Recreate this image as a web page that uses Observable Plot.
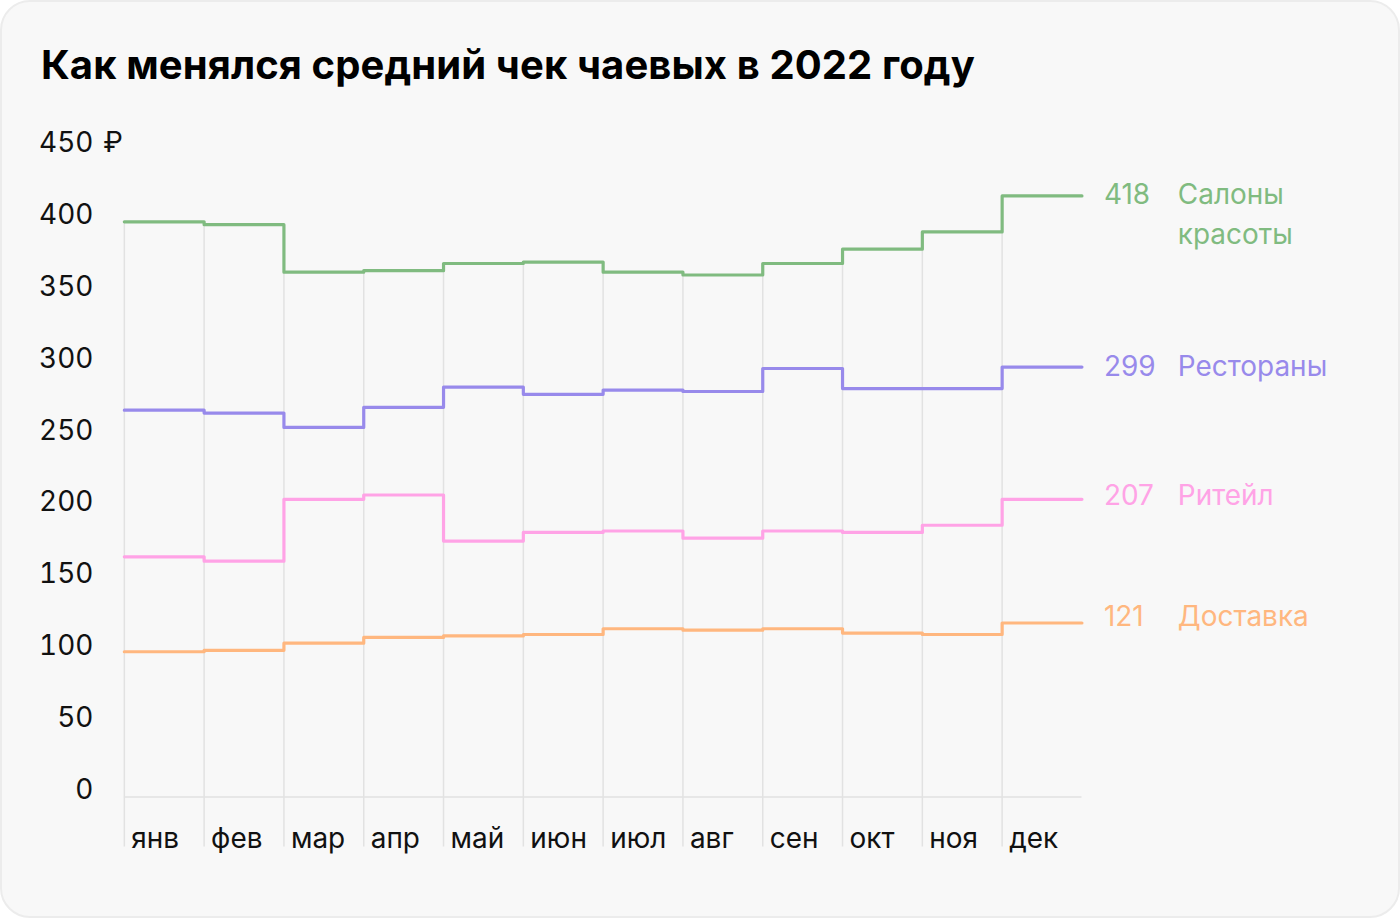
<!DOCTYPE html>
<html>
<head>
<meta charset="utf-8">
<script src="https://cdn.jsdelivr.net/npm/d3@7"></script>
<script src="https://cdn.jsdelivr.net/npm/@observablehq/plot@0.6"></script>
<style>
  html, body { margin: 0; padding: 0; background: #ffffff; }
  #card {
    position: absolute; left: 0; top: 0; width: 1396px; height: 914px;
    background: #f8f8f8; border: 2px solid #ececec; border-radius: 30px; overflow: hidden;
    font-family: Inter, "Noto Sans", sans-serif;
  }
  #title {
    position: absolute; left: 39px; top: 43px; margin: 0;
    font-size: 40px; line-height: 40px; font-weight: 700; color: #000; letter-spacing: 0.1px;
  }
  #chart { position: absolute; left: -2px; top: 96px; }
</style>
</head>
<body>
<div id="card">
  <h1 id="title">Как менялся средний чек чаевых в 2022 году</h1>
  <div id="chart"></div>
</div>
<script>
const months = ["янв","фев","мар","апр","май","июн","июл","авг","сен","окт","ноя","дек"];
const yTicks = [0, 50, 100, 150, 200, 250, 300, 350, 400, 450];
const seriesNames = ["Салоны\nкрасоты", "Рестораны", "Ритейл", "Доставка"];
const seriesColors = ["#80bb80", "#988aeb", "#ffa3e6", "#ffb77f"];
const beauty      = [400, 398, 365, 366, 371, 372, 365, 363, 371, 381, 393, 418];
const restaurants = [269, 267, 257, 271, 285, 280, 283, 282, 298, 284, 284, 299];
const retail      = [167, 164, 207, 210, 178, 184, 185, 180, 185, 184, 189, 207];
const delivery    = [101, 102, 107, 111, 112, 113, 117, 116, 117, 114, 113, 121];

const allSeries = [beauty, restaurants, retail, delivery];
// step table: each month spans [i, i+1]; add closing point at 12
const rows = [];
allSeries.forEach((vals, s) => {
  vals.forEach((v, i) => rows.push({s, x: i, y: v}));
  rows.push({s, x: vals.length, y: vals[vals.length - 1]});
});
const ends = allSeries.map((vals, s) => ({s, x: vals.length, y: vals[vals.length - 1], name: seriesNames[s]}));
const grid = months.map((m, i) => ({x: i, y: beauty[i]}));
const labelNudge = [-1, 0, -3, -6];

const endLabels = ends.flatMap((e, s) => [
  Plot.text([e], {x: "x", y: "y", text: d => String(d.y), fill: seriesColors[s], fontSize: 28, textAnchor: "start", lineAnchor: "top", dx: 22, dy: -11 + labelNudge[s]}),
  Plot.text([e], {x: "x", y: "y", text: "name", fill: seriesColors[s], fontSize: 28, textAnchor: "start", lineAnchor: "top", lineHeight: 1.45, dx: 96, dy: -20 + labelNudge[s]})
]);

const chart = Plot.plot({
  width: 1400,
  height: 780,
  marginLeft: 124,
  marginRight: 317,
  marginTop: 51.5,
  marginBottom: 80.5,
  style: {background: "transparent", fontFamily: "Inter, 'Noto Sans', sans-serif", color: "#111"},
  x: {type: "linear", domain: [0, 12], axis: null},
  y: {domain: [0, 450], axis: null},
  marks: [
    Plot.ruleX(grid, {x: "x", y1: "y", y2: 0, stroke: "#e2e2e2", strokeWidth: 1.5, insetBottom: -50}),
    Plot.ruleY([0], {x1: 0, x2: 12, stroke: "#e2e2e2", strokeWidth: 1.5}),
    Plot.axisY({ticks: yTicks, tickSize: 0, tickPadding: 31, fontSize: 28, lineAnchor: "bottom", dy: 2, fill: "#111", label: null}),
    Plot.text([450], {y: d => d, x: 0, text: () => "₽", fontSize: 28, textAnchor: "start", lineAnchor: "bottom", dx: -21, dy: 2, fill: "#111"}),
    Plot.axisX({ticks: d3.range(months.length), tickFormat: i => months[i], tickSize: 0, tickPadding: 31, textAnchor: "start", dx: 7, fontSize: 28, fill: "#111", label: null}),
    Plot.line(rows, {x: "x", y: "y", z: "s", stroke: d => seriesColors[d.s], strokeWidth: 3.2, curve: "step-after"}),
    ...endLabels
  ]
});
document.getElementById("chart").appendChild(chart);
</script>
</body>
</html>
